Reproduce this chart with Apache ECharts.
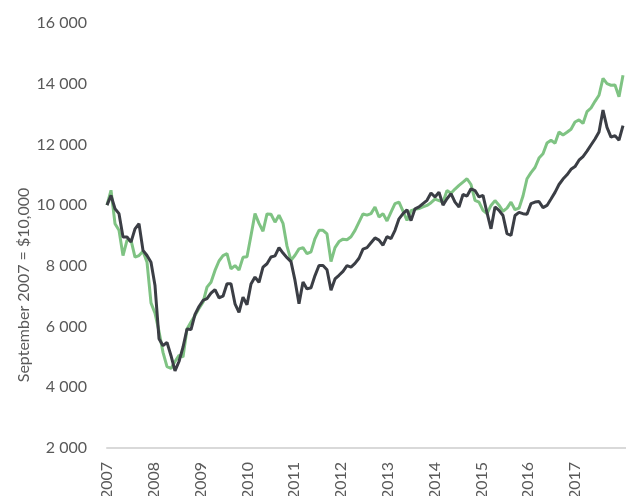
<!DOCTYPE html>
<html>
<head>
<meta charset="utf-8">
<script src="https://cdn.jsdelivr.net/npm/echarts@6/dist/echarts.min.js"></script>
<style>
html, body { margin: 0; padding: 0; background: #fff; }
#chart { width: 626px; height: 496px; }
</style>
</head>
<body>
<div id="chart"></div>
<script>
// monthly values, September 2007 = 10 000
var yearLabels = ['2007', '2008', '2009', '2010', '2011', '2012', '2013', '2014', '2015', '2016', '2017'];

var greenValues = [
	10000, 10490, 9390, 9170, 8340, 8840, 8850, 8290, 8340, 8480,
	8120, 6780, 6440, 5840, 5150, 4680, 4620, 4850, 5050, 5000,
	5920, 6150, 6360, 6600, 6800, 7300, 7460, 7850, 8160, 8340,
	8400, 7900, 8010, 7860, 8280, 8300, 9000, 9720, 9400, 9140,
	9710, 9700, 9440, 9670, 9400, 8650, 8180, 8350, 8560, 8600,
	8400, 8460, 8900, 9170, 9170, 9050, 8140, 8600, 8800, 8880,
	8860, 8960, 9170, 9440, 9710, 9670, 9720, 9940, 9610, 9720,
	9480, 9770, 10050, 10100, 9800, 9500, 9820, 9860, 9890, 9940,
	9990, 10080, 10200, 10150, 10100, 10480, 10390, 10530, 10650, 10760,
	10870, 10680, 10160, 10100, 9830, 9720, 9990, 10150, 10000, 9800,
	9900, 10100, 9850, 9900, 10300, 10870, 11070, 11240, 11550, 11690,
	12050, 12140, 12040, 12410, 12310, 12400, 12500, 12740, 12810, 12690,
	13080, 13200, 13420, 13620, 14175, 14000, 13950, 13960, 13570, 14280
];

var darkValues = [
	10000, 10320, 9880, 9720, 8950, 8950, 8780, 9220, 9390, 8510,
	8340, 8120, 7350, 5600, 5370, 5480, 5040, 4540, 4850, 5320,
	5920, 5900, 6400, 6660, 6860, 6920, 7100, 7220, 6950, 7000,
	7410, 7410, 6750, 6470, 6970, 6720, 7400, 7630, 7460, 7960,
	8070, 8290, 8330, 8600, 8420, 8270, 8140, 7520, 6750, 7470,
	7240, 7280, 7680, 8010, 8010, 7870, 7200, 7570, 7690, 7820,
	8010, 7960, 8080, 8250, 8550, 8600, 8760, 8920, 8850, 8680,
	8960, 8900, 9170, 9550, 9720, 9850, 9490, 9880, 9940, 10050,
	10160, 10400, 10270, 10430, 10000, 10210, 10380, 10100, 9940, 10350,
	10300, 10540, 10480, 10270, 10320, 9750, 9220, 9940, 9830, 9660,
	9060, 9000, 9660, 9760, 9720, 9700, 10050, 10100, 10120, 9920,
	9990, 10200, 10420, 10680, 10860, 11000, 11180, 11270, 11480, 11600,
	11780, 11980, 12180, 12410, 13130, 12560, 12240, 12290, 12140, 12620
];

var yearStep = 11.7; // label spacing in months on the x scale

function toPairs(arr) {
	var res = [];
	for (var i = 0; i < arr.length; i++) {
		res.push([i, arr[i]]);
	}
	return res;
}

var myChart = echarts.init(document.getElementById('chart'));

var option = {
	backgroundColor : '#ffffff',
	animation : false,
	grid : {
		left : 107,
		right : 0,
		top : 23,
		bottom : 48,
		outerBoundsMode : 'none',
		containLabel : false
	},
	xAxis : {
		type : 'value',
		min : 0,
		max : 129.75,
		interval : yearStep,
		axisLine : {
			show : true,
			lineStyle : { color : '#d9d9d9', width : 2 }
		},
		axisTick : { show : false },
		splitLine : { show : false },
		axisLabel : {
			rotate : 90,
			margin : 14,
			color : '#595959',
			fontFamily : 'Lato',
			fontSize : 16,
			showMaxLabel : false,
			formatter : function(v) {
				var k = Math.round(v / yearStep);
				return yearLabels[k] || '';
			}
		}
	},
	yAxis : {
		type : 'value',
		min : 2000,
		max : 16000,
		interval : 2000,
		axisLine : { show : false },
		axisTick : { show : false },
		splitLine : { show : false },
		axisLabel : {
			margin : 20,
			color : '#595959',
			fontFamily : 'Lato',
			fontSize : 16,
			formatter : function(v) {
				return String(v).replace(/\B(?=(\d{3})+(?!\d))/g, ' ');
			}
		}
	},
	graphic : [ {
		type : 'text',
		x : 24,
		y : 285,
		rotation : Math.PI / 2,
		style : {
			text : 'September 2007 = $10,000',
			fill : '#595959',
			font : '16px Lato',
			textAlign : 'center',
			textVerticalAlign : 'middle'
		}
	} ],
	series : [ {
		name : 'green',
		type : 'line',
		data : toPairs(greenValues),
		showSymbol : false,
		lineStyle : { color : '#7fc383', width : 3 },
		itemStyle : { color : '#7fc383' },
		z : 2
	}, {
		name : 'dark',
		type : 'line',
		data : toPairs(darkValues),
		showSymbol : false,
		lineStyle : { color : '#3b3e45', width : 3 },
		itemStyle : { color : '#3b3e45' },
		z : 3
	} ]
};

myChart.setOption(option);
</script>
</body>
</html>
